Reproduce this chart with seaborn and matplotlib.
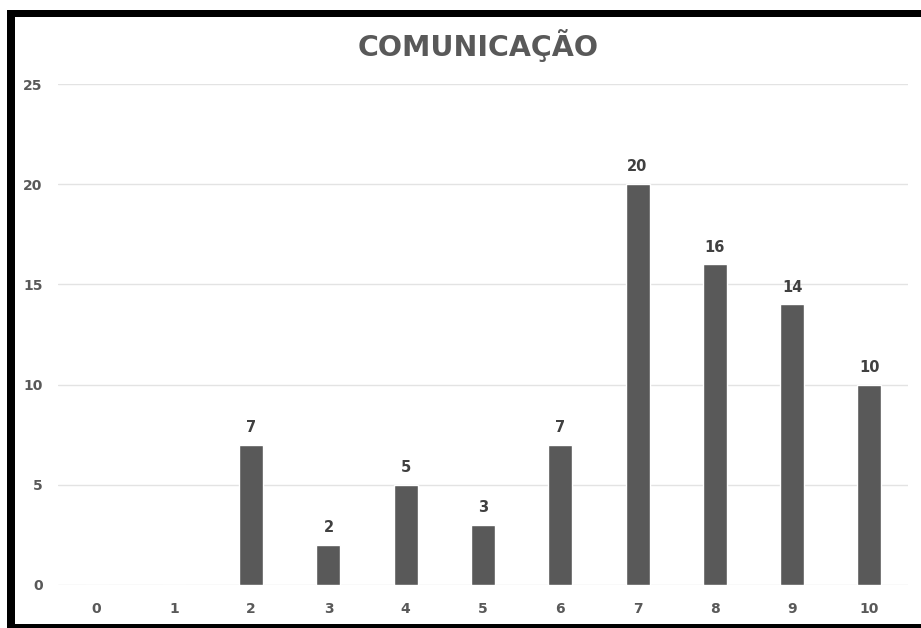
import matplotlib
matplotlib.use("Agg")
import matplotlib.pyplot as plt
from matplotlib.patches import Rectangle
import seaborn as sns
import pandas as pd

# Scores (0-10) and number of answers for each score
notas = ["0", "1", "2", "3", "4", "5", "6", "7", "8", "9", "10"]
respostas = [0, 0, 7, 2, 5, 3, 7, 20, 16, 14, 10]
y_ticks = [0, 5, 10, 15, 20, 25]
titulo = "COMUNICAÇÃO"

df = pd.DataFrame({"nota": notas, "respostas": respostas})

sns.set_theme(style="white")
plt.rcParams["font.family"] = ["DejaVu Sans"]

cinza = "#595959"
W, H = 921, 628
fig = plt.figure(figsize=(W / 100, H / 100), dpi=100)
fig.patch.set_facecolor("white")

ax = fig.add_axes([58 / W, (H - 585) / H, 850 / W, 501 / H])
sns.barplot(data=df, x="nota", y="respostas", color=cinza, width=0.31,
            saturation=1, ax=ax, zorder=3)

ax.set_ylim(0, 25)
ax.set_xlim(-0.5, len(notas) - 0.5)
ax.set_yticks(y_ticks)
ax.yaxis.grid(True, color="#e3e3e3", linewidth=1.0, zorder=0)
ax.set_axisbelow(True)
for s in ax.spines.values():
    s.set_visible(False)
ax.set_xlabel("")
ax.set_ylabel("")
ax.tick_params(axis="both", length=0, colors=cinza, labelsize=10)
ax.tick_params(axis="y", pad=11)
ax.tick_params(axis="x", pad=12)
for lbl in ax.get_xticklabels() + ax.get_yticklabels():
    lbl.set_fontweight("bold")

# value labels above the non-empty bars
for i, v in enumerate(respostas):
    if v > 0:
        ax.annotate(str(v), (i, v), xytext=(0, 7), textcoords="offset points",
                    ha="center", va="bottom", fontsize=10.5,
                    fontweight="bold", color="#404040")

fig.text(478 / W, 1 - 46 / H, titulo, ha="center", va="center",
         fontsize=20.5, fontweight="bold", color=cinza)

# black frame around the chart (left, top, bottom)
frame = [(7, 9.5, 8, H - 9.5), (7, 9.5, W - 7, 7.5), (7, H - 4, W - 7, 4)]
for x0, y0, w, h in frame:
    fig.patches.append(Rectangle((x0 / W, 1 - (y0 + h) / H), w / W, h / H,
                                 transform=fig.transFigure, facecolor="black",
                                 edgecolor="none", zorder=10))

fig.savefig("out.png", dpi=100, facecolor="white")
